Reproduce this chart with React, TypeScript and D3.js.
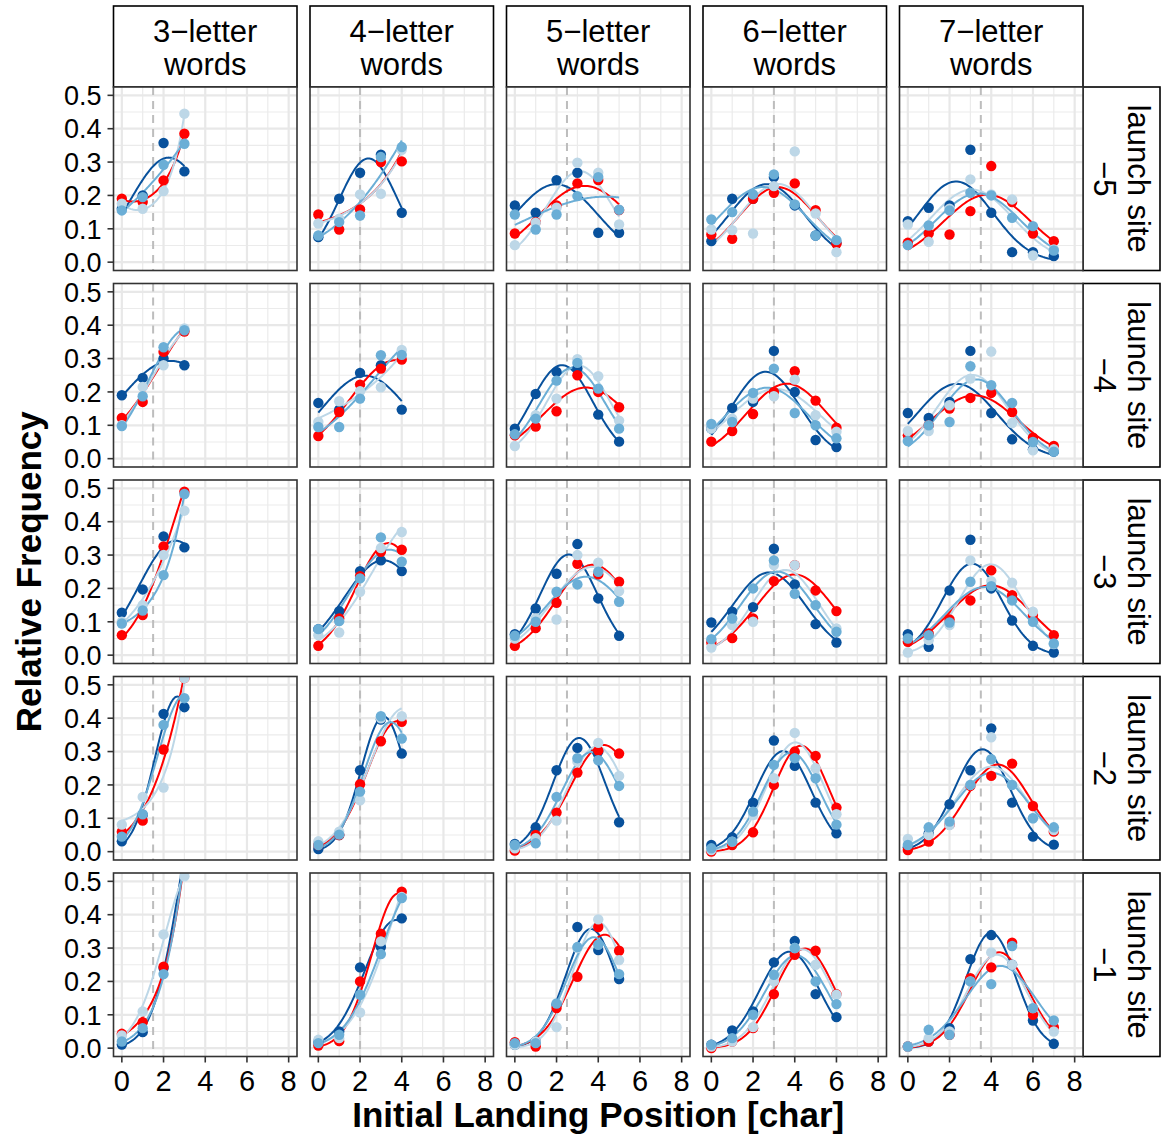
import React from "react";
import * as d3 from "d3";

// word lengths (columns) and launch sites (rows)
const wordLengths = [3, 4, 5, 6, 7];
const launchSites = ["\u22125", "\u22124", "\u22123", "\u22122", "\u22121"];
const xTicks = [0, 2, 4, 6, 8];
const yTicks = [0, 0.1, 0.2, 0.3, 0.4, 0.5];

const seriesColors = ["#ff0000", "#bdd7e7", "#6baed6", "#08519c"];

// relative frequencies, [launch site][word length][landing position]
const redFreq = [
  [[0.19, 0.18, 0.245, 0.385], [0.143, 0.098, 0.158, 0.3, 0.302], [0.086, 0.12, 0.17, 0.236, 0.246, 0.156], [0.083, 0.07, 0.19, 0.208, 0.236, 0.156, 0.055], [0.058, 0.086, 0.083, 0.153, 0.288, 0.18, 0.086, 0.063]],
  [[0.122, 0.17, 0.32, 0.381], [0.068, 0.14, 0.222, 0.27, 0.297], [0.07, 0.096, 0.142, 0.25, 0.2, 0.154], [0.051, 0.083, 0.134, 0.2, 0.262, 0.174, 0.093], [0.07, 0.1, 0.15, 0.182, 0.197, 0.14, 0.063, 0.038]],
  [[0.06, 0.12, 0.326, 0.49], [0.028, 0.11, 0.237, 0.31, 0.316], [0.028, 0.081, 0.157, 0.274, 0.242, 0.22], [0.038, 0.051, 0.11, 0.222, 0.27, 0.194, 0.132], [0.04, 0.065, 0.107, 0.164, 0.254, 0.18, 0.12, 0.06]],
  [[0.06, 0.093, 0.306, 0.52], [0.02, 0.05, 0.202, 0.331, 0.389], [0.003, 0.05, 0.117, 0.237, 0.303, 0.294], [0.0, 0.02, 0.058, 0.2, 0.3, 0.287, 0.132], [0.005, 0.03, 0.081, 0.197, 0.227, 0.264, 0.137, 0.06]],
  [[0.043, 0.078, 0.244, 0.56], [0.008, 0.021, 0.2, 0.343, 0.469], [0.018, 0.005, 0.12, 0.214, 0.363, 0.292], [0.0, 0.02, 0.06, 0.162, 0.28, 0.292, 0.162], [0.005, 0.02, 0.04, 0.21, 0.242, 0.316, 0.1, 0.063]],
];
const lightFreq = [
  [[0.175, 0.16, 0.213, 0.445], [0.116, 0.13, 0.203, 0.205, 0.337], [0.051, 0.118, 0.163, 0.298, 0.268, 0.113], [0.098, 0.096, 0.086, 0.228, 0.332, 0.146, 0.03], [0.113, 0.061, 0.16, 0.248, 0.203, 0.188, 0.02, 0.038]],
  [[0.1, 0.215, 0.28, 0.39], [0.11, 0.172, 0.202, 0.214, 0.326], [0.038, 0.13, 0.18, 0.298, 0.247, 0.114], [0.09, 0.12, 0.18, 0.187, 0.237, 0.13, 0.081], [0.083, 0.083, 0.16, 0.24, 0.321, 0.107, 0.025, 0.028]],
  [[0.1, 0.15, 0.3, 0.433], [0.06, 0.068, 0.19, 0.321, 0.369], [0.05, 0.11, 0.107, 0.3, 0.277, 0.192], [0.023, 0.09, 0.1, 0.27, 0.27, 0.15, 0.08], [0.008, 0.045, 0.09, 0.284, 0.222, 0.217, 0.13, 0.033]],
  [[0.081, 0.164, 0.192, 0.52], [0.031, 0.06, 0.154, 0.4, 0.406], [0.01, 0.04, 0.093, 0.27, 0.326, 0.227], [0.005, 0.03, 0.11, 0.22, 0.356, 0.25, 0.112], [0.038, 0.05, 0.08, 0.2, 0.343, 0.2, 0.1, 0.065]],
  [[0.038, 0.11, 0.341, 0.515], [0.025, 0.03, 0.107, 0.32, 0.453], [0.01, 0.02, 0.063, 0.3, 0.386, 0.264], [0.005, 0.02, 0.063, 0.2, 0.3, 0.25, 0.16], [0.005, 0.03, 0.05, 0.2, 0.287, 0.25, 0.12, 0.05]],
];
const midFreq = [
  [[0.155, 0.195, 0.292, 0.355], [0.08, 0.12, 0.14, 0.315, 0.345], [0.143, 0.098, 0.143, 0.198, 0.255, 0.157], [0.128, 0.15, 0.203, 0.263, 0.173, 0.08, 0.066], [0.051, 0.11, 0.155, 0.208, 0.2, 0.133, 0.108, 0.035]],
  [[0.098, 0.187, 0.334, 0.385], [0.095, 0.095, 0.18, 0.31, 0.311], [0.073, 0.12, 0.234, 0.287, 0.21, 0.09], [0.104, 0.11, 0.197, 0.27, 0.137, 0.1, 0.061], [0.053, 0.1, 0.11, 0.277, 0.22, 0.167, 0.05, 0.021]],
  [[0.095, 0.134, 0.24, 0.483], [0.078, 0.102, 0.23, 0.353, 0.28], [0.058, 0.1, 0.19, 0.212, 0.25, 0.16], [0.048, 0.11, 0.2, 0.284, 0.184, 0.15, 0.07], [0.05, 0.06, 0.098, 0.22, 0.207, 0.164, 0.1, 0.035]],
  [[0.045, 0.112, 0.38, 0.46], [0.02, 0.051, 0.18, 0.406, 0.339], [0.02, 0.025, 0.164, 0.28, 0.274, 0.197], [0.01, 0.03, 0.12, 0.26, 0.28, 0.22, 0.081], [0.02, 0.073, 0.09, 0.2, 0.277, 0.2, 0.1, 0.073]],
  [[0.02, 0.06, 0.222, 0.57], [0.015, 0.04, 0.16, 0.282, 0.45], [0.015, 0.015, 0.134, 0.303, 0.31, 0.222], [0.01, 0.03, 0.1, 0.22, 0.3, 0.2, 0.132], [0.005, 0.055, 0.04, 0.2, 0.192, 0.306, 0.12, 0.083]],
];
const darkFreq = [
  [[0.16, 0.2, 0.357, 0.272], [0.075, 0.19, 0.268, 0.322, 0.148], [0.17, 0.148, 0.246, 0.268, 0.088, 0.088], [0.063, 0.19, 0.19, 0.255, 0.17, 0.08, 0.058], [0.123, 0.163, 0.17, 0.337, 0.148, 0.03, 0.03, 0.018]],
  [[0.19, 0.242, 0.3, 0.28], [0.167, 0.147, 0.257, 0.28, 0.147], [0.09, 0.194, 0.26, 0.27, 0.132, 0.051], [0.09, 0.152, 0.17, 0.323, 0.2, 0.056, 0.035], [0.137, 0.122, 0.17, 0.323, 0.137, 0.058, 0.028, 0.021]],
  [[0.127, 0.197, 0.356, 0.323], [0.078, 0.132, 0.252, 0.284, 0.252], [0.063, 0.14, 0.244, 0.333, 0.17, 0.058], [0.098, 0.13, 0.144, 0.319, 0.212, 0.093, 0.038], [0.063, 0.025, 0.194, 0.346, 0.2, 0.104, 0.028, 0.008]],
  [[0.031, 0.11, 0.413, 0.433], [0.008, 0.05, 0.244, 0.396, 0.294], [0.023, 0.073, 0.244, 0.311, 0.3, 0.088], [0.02, 0.043, 0.147, 0.333, 0.257, 0.147, 0.055], [0.013, 0.055, 0.142, 0.244, 0.369, 0.147, 0.045, 0.021]],
  [[0.011, 0.048, 0.24, 0.58], [0.02, 0.05, 0.242, 0.303, 0.389], [0.01, 0.02, 0.13, 0.363, 0.294, 0.207], [0.01, 0.053, 0.11, 0.257, 0.321, 0.162, 0.093], [0.005, 0.02, 0.06, 0.267, 0.339, 0.25, 0.083, 0.013]],
];
const allSeries = [redFreq, lightFreq, midFreq, darkFreq];
const drawOrder = [3, 0, 1, 2];

// layout
const W = 1161;
const H = 1137;
const left0 = 113.5;
const top0 = 87;
const panelW = 183.5;
const panelH = 183.5;
const gap = 13;
const font = "'Liberation Sans', Arial, Helvetica, sans-serif";

// solve 3x3 linear system
function solve3(A: number[][], b: number[]) {
  const M = A.map((r, i) => [...r, b[i]]);
  for (let i = 0; i < 3; i++) {
    let p = i;
    for (let k = i + 1; k < 3; k++) if (Math.abs(M[k][i]) > Math.abs(M[p][i])) p = k;
    [M[i], M[p]] = [M[p], M[i]];
    for (let k = i + 1; k < 3; k++) {
      const f = M[k][i] / M[i][i];
      for (let j = i; j < 4; j++) M[k][j] -= f * M[i][j];
    }
  }
  const x = [0, 0, 0];
  for (let i = 2; i >= 0; i--) {
    let s = M[i][3];
    for (let j = i + 1; j < 3; j++) s -= M[i][j] * x[j];
    x[i] = s / M[i][i];
  }
  return x;
}

// quadratic log-link (poisson style) fit: mu = exp(a + b x + c x^2)
function fitCurve(ys: number[]) {
  const feats = ys.map((_, x) => [1, x, x * x]);
  // start: log fit weighted by y
  const A0 = [[0, 0, 0], [0, 0, 0], [0, 0, 0]];
  const b0 = [0, 0, 0];
  feats.forEach((f, i) => {
    const y = Math.max(ys[i], 0.004);
    for (let r = 0; r < 3; r++) {
      b0[r] += y * f[r] * Math.log(y);
      for (let c = 0; c < 3; c++) A0[r][c] += y * f[r] * f[c];
    }
  });
  let p = solve3(A0, b0);
  const mu = (q: number[], f: number[]) => Math.exp(q[0] * f[0] + q[1] * f[1] + q[2] * f[2]);
  const dev = (q: number[]) => d3.sum(feats, (f, i) => mu(q, f) - ys[i] * Math.log(mu(q, f)));
  for (let it = 0; it < 40; it++) {
    const Hm = [[0, 0, 0], [0, 0, 0], [0, 0, 0]];
    const g = [0, 0, 0];
    feats.forEach((f, i) => {
      const m = mu(p, f);
      for (let a = 0; a < 3; a++) {
        g[a] += f[a] * (ys[i] - m);
        for (let c = 0; c < 3; c++) Hm[a][c] += m * f[a] * f[c];
      }
    });
    const d = solve3(Hm, g);
    if (d.some((v) => !isFinite(v))) break;
    let step = 1;
    const cur = dev(p);
    let next = p.map((v, i) => v + step * d[i]);
    while (dev(next) > cur && step > 1e-4) {
      step /= 2;
      next = p.map((v, i) => v + step * d[i]);
    }
    p = next;
  }
  return (x: number) => mu(p, [1, x, x * x]);
}

function Panel({ row, col }: { row: number; col: number }) {
  const x0 = left0 + col * (panelW + gap);
  const y0 = top0 + row * (panelH + gap);
  const n = wordLengths[col];
  const x = d3.scaleLinear().domain([-0.4, 8.4]).range([x0, x0 + panelW]);
  const y = d3.scaleLinear().domain([-0.025, 0.525]).range([y0 + panelH, y0]);
  const clipId = `clip-${row}-${col}`;
  const samples = d3.range(0, n + 0.0001, n / 80);
  const minorX = [1, 3, 5, 7];
  const minorY = [0.05, 0.15, 0.25, 0.35, 0.45];
  return (
    <g>
      <defs>
        <clipPath id={clipId}>
          <rect x={x0} y={y0} width={panelW} height={panelH} />
        </clipPath>
      </defs>
      <rect x={x0} y={y0} width={panelW} height={panelH} fill="#fff" />
      {minorX.map((v) => (
        <line key={"mx" + v} x1={x(v)} x2={x(v)} y1={y0} y2={y0 + panelH} stroke="#ebebeb" strokeWidth={1.2} />
      ))}
      {minorY.map((v) => (
        <line key={"my" + v} x1={x0} x2={x0 + panelW} y1={y(v)} y2={y(v)} stroke="#ebebeb" strokeWidth={1.2} />
      ))}
      {xTicks.map((v) => (
        <line key={"gx" + v} x1={x(v)} x2={x(v)} y1={y0} y2={y0 + panelH} stroke="#e8e8e8" strokeWidth={2.2} />
      ))}
      {yTicks.map((v) => (
        <line key={"gy" + v} x1={x0} x2={x0 + panelW} y1={y(v)} y2={y(v)} stroke="#e8e8e8" strokeWidth={2.2} />
      ))}
      <line x1={x(n / 2)} x2={x(n / 2)} y1={y0} y2={y0 + panelH} stroke="#bdbdbd" strokeWidth={2} strokeDasharray="8,6" />
      <g clipPath={`url(#${clipId})`}>
        {drawOrder.map((s) => {
          const f = fitCurve(allSeries[s][row][col]);
          const path = d3
            .line<number>()
            .x((d) => x(d))
            .y((d) => y(f(d)))(samples);
          return <path key={"l" + s} d={path || ""} fill="none" stroke={seriesColors[s]} strokeWidth={2} />;
        })}
        {drawOrder.map((s) =>
          allSeries[s][row][col].map((v, i) => (
            <circle key={`p${s}-${i}`} cx={x(i)} cy={y(v)} r={5.2} fill={seriesColors[s]} />
          ))
        )}
      </g>
      <rect x={x0} y={y0} width={panelW} height={panelH} fill="none" stroke="#333" strokeWidth={1.6} />
      {col === 0 &&
        yTicks.map((v) => (
          <g key={"yt" + v}>
            <line x1={x0 - 6} x2={x0} y1={y(v)} y2={y(v)} stroke="#333" strokeWidth={1.6} />
            <text x={x0 - 12} y={y(v)} dy="0.36em" textAnchor="end" fontSize={27} fontFamily={font} fill="#000">
              {d3.format(".1f")(v)}
            </text>
          </g>
        ))}
      {row === launchSites.length - 1 &&
        xTicks.map((v) => (
          <g key={"xt" + v}>
            <line x1={x(v)} x2={x(v)} y1={y0 + panelH} y2={y0 + panelH + 6} stroke="#333" strokeWidth={1.6} />
            <text x={x(v)} y={y0 + panelH + 34} textAnchor="middle" fontSize={29} fontFamily={font} fill="#000">
              {v}
            </text>
          </g>
        ))}
    </g>
  );
}

export default function App() {
  const stripTop = 6;
  const stripRight = 1160;
  const rightX = left0 + 5 * panelW + 4 * gap;
  return (
    <svg width={W} height={H} style={{ position: "absolute", left: 0, top: 0, background: "#fff" }}>
      <rect width={W} height={H} fill="#fff" />
      {wordLengths.map((n, c) => {
        const x0 = left0 + c * (panelW + gap);
        return (
          <g key={"st" + n}>
            <rect x={x0} y={stripTop} width={panelW} height={top0 - stripTop} fill="#fff" stroke="#000" strokeWidth={1.6} />
            <text x={x0 + panelW / 2} textAnchor="middle" fontSize={31} fontFamily={font} fill="#000">
              <tspan x={x0 + panelW / 2} y={42}>{`${n}\u2212letter`}</tspan>
              <tspan x={x0 + panelW / 2} y={75}>words</tspan>
            </text>
          </g>
        );
      })}
      {launchSites.map((s, r) => {
        const y0 = top0 + r * (panelH + gap);
        const cx = (rightX + stripRight) / 2;
        const cy = y0 + panelH / 2;
        return (
          <g key={"sr" + s}>
            <rect x={rightX} y={y0} width={stripRight - rightX} height={panelH} fill="#fff" stroke="#000" strokeWidth={1.6} />
            <text transform={`translate(${cx},${cy}) rotate(90)`} textAnchor="middle" fontSize={31} fontFamily={font} fill="#000">
              <tspan x={0} y={-6}>launch site</tspan>
              <tspan x={0} y={28}>{s}</tspan>
            </text>
          </g>
        );
      })}
      {launchSites.map((_, r) => wordLengths.map((__, c) => <Panel key={`${r}-${c}`} row={r} col={c} />))}
      <text
        transform={`translate(41,${top0 + (5 * panelH + 4 * gap) / 2}) rotate(-90)`}
        textAnchor="middle"
        fontSize={35}
        fontWeight="bold"
        fontFamily={font}
        fill="#000"
      >
        Relative Frequency
      </text>
      <text x={left0 + (5 * panelW + 4 * gap) / 2} y={1127} textAnchor="middle" fontSize={35} fontWeight="bold" fontFamily={font} fill="#000">
        Initial Landing Position [char]
      </text>
    </svg>
  );
}
